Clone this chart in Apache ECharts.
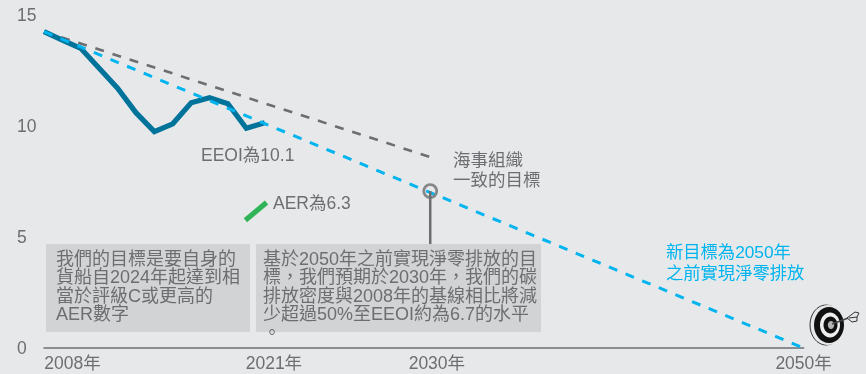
<!DOCTYPE html>
<html><head><meta charset="utf-8">
<style>html,body{margin:0;padding:0;background:#e7e8ea}#c{width:866px;height:374px}</style>
<script src="https://cdn.jsdelivr.net/npm/echarts@6/dist/echarts.min.js"></script>
</head><body><div id="c"></div>
<script>
// The reference axis is schematic: the first plotted point sits at axis value 2009 although labelled 2008年.
const eeoiX = [2009,2010,2011,2012,2013,2014,2015,2016,2017,2018,2019,2020,2021];
const eeoiY = [14.25,13.87,13.5,12.6,11.7,10.6,9.75,10.1,11.05,11.27,11.0,9.9,10.15];
const imoX = [2009,2030];
const imoY = [14.25,8.6];
const netZeroX = [2009,2050.3];
const netZeroY = [14.25,0];
const aerX = [2019.95,2021.1];
const aerY = [5.75,6.55];
const markerX = [2030];
const markerY = [7.07];
const leaderY = [7.07,4.6];
const xTickLabels = ['2008年','2021年','2030年','2050年'];
const xTickAt = [2010.55,2021.5,2030.36,2050.3];
const yTicks = [0,5,10,15];

const FONT = '"Liberation Sans","Noto Sans CJK TC",sans-serif';
const GREY = '#6d6e71', BLUE = '#00b5ef', TEAL = '#00739b', GREEN = '#2fb457', BOX = '#d1d3d4', BG = '#e7e8ea';
const zip = (a,b)=>a.map((x,i)=>[x,b[i]]);
const txt = (x,y,text,fill,lh,fs)=>({type:'text',z:20,x,y,style:{text,fill:fill||GREY,font:(fs||17.5)+'px '+FONT,lineHeight:lh||20,textVerticalAlign:'top'}});
const boxT1 = '我們的目標是要自身的\n貨船自2024年起達到相\n當於評級C或更高的\nAER數字';
const boxT2 = '基於2050年之前實現淨零排放的目\n標，我們預期於2030年，我們的碳\n排放密度與2008年的基線相比將減\n少超過50%至EEOI約為6.7的水平\n。';

const chart = echarts.init(document.getElementById('c'));
chart.setOption({
  animation:false, backgroundColor:BG, textStyle:{fontFamily:FONT},
  grid:{left:44,right:62.4,top:15,bottom:26,containLabel:false},
  xAxis:{type:'value',min:2009,max:2050.3,splitLine:{show:false},
    axisLine:{show:true,lineStyle:{color:GREY,width:1.5}},axisTick:{show:false},
    axisLabel:{customValues:xTickAt,margin:7,fontSize:17.5,color:GREY,fontFamily:FONT,hideOverlap:false,
      formatter:v=>xTickLabels[xTickAt.indexOf(v)]}},
  yAxis:{type:'value',min:0,max:15,interval:5,splitLine:{show:false},axisLine:{show:false},axisTick:{show:false},
    axisLabel:{align:'left',verticalAlign:'top',margin:27,fontSize:17.5,color:GREY,fontFamily:FONT,lineHeight:18,padding:[-8,0,0,0],
      formatter:v=>yTicks.includes(v)?String(v):''}},
  graphic:[
    {type:'rect',z:10,shape:{x:46,y:244,width:204,height:88},style:{fill:BOX}},
    {type:'rect',z:10,shape:{x:256,y:244,width:285,height:88},style:{fill:BOX}},
    txt(56,250.5,boxT1,GREY,18.5,18),
    txt(263,250.5,boxT2,GREY,18.5,18),
    txt(201,146,'EEOI為10.1'),
    txt(273,194,'AER為6.3'),
    txt(453,151,'海事組織\n一致的目標'),
    txt(666,243,'新目標為2050年\n之前實現淨零排放',BLUE,21,17.3),
    {type:'group',z:20,x:829,y:325,children:[
      {type:'ellipse',shape:{cx:-3,cy:0,rx:16,ry:20},style:{fill:'none',stroke:'#333',lineWidth:1}},
      {type:'ellipse',shape:{cx:-1,cy:0,rx:16,ry:20},style:{fill:BG}},
      {type:'ellipse',shape:{cx:0,cy:0,rx:15,ry:18},style:{fill:'#111'}},
      {type:'ellipse',shape:{cx:1,cy:0,rx:10,ry:12.5},style:{fill:'#eee'}},
      {type:'ellipse',shape:{cx:1.5,cy:0,rx:7,ry:8.5},style:{fill:'#111'}},
      {type:'ellipse',shape:{cx:2,cy:0,rx:3.2,ry:4},style:{fill:'#b5b5b5'}},
      {type:'line',shape:{x1:3,y1:-1,x2:22,y2:-8},style:{stroke:'#444',lineWidth:1.5}},
      {type:'polygon',shape:{points:[[18,-7],[26,-13],[30,-12],[28,-8],[28,-4],[23,-3]]},style:{fill:BG,stroke:'#333',lineWidth:1}},
      {type:'line',shape:{x1:20,y1:-7,x2:28,y2:-8},style:{stroke:'#333',lineWidth:1}}
    ]}
  ],
  series:[
    {type:'line',name:'IMO',data:zip(imoX,imoY),symbol:'none',z:3,lineStyle:{color:GREY,width:2.6,type:[9,9]}},
    {type:'line',name:'EEOI',data:zip(eeoiX,eeoiY),symbol:'none',z:4,lineStyle:{color:TEAL,width:5.2,join:'miter'}},
    {type:'line',name:'NetZero',data:zip(netZeroX,netZeroY),symbol:'none',z:5,lineStyle:{color:BLUE,width:3,type:[9,9]}},
    {type:'line',name:'AER',data:zip(aerX,aerY),symbol:'none',z:5,lineStyle:{color:GREEN,width:5.2}},
    {type:'line',name:'Leader',data:zip([markerX[0],markerX[0]],leaderY),symbol:'none',z:6,lineStyle:{color:GREY,width:2.5}},
    {type:'scatter',name:'Marker',data:zip(markerX,markerY),symbol:'circle',symbolSize:13,z:7,
      itemStyle:{color:'rgba(0,0,0,0)',borderColor:GREY,borderWidth:2.8}}
  ]
});
</script></body></html>
